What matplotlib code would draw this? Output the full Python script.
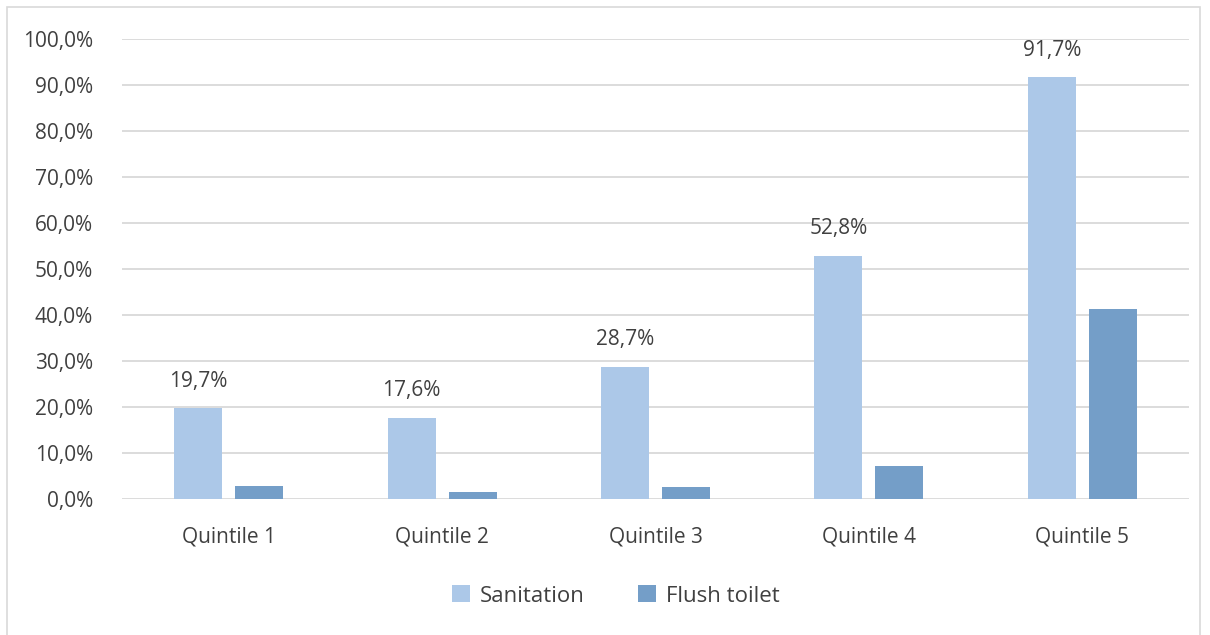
import numpy as np
import matplotlib.pyplot as plt
from matplotlib.patches import Rectangle
from matplotlib.ticker import FuncFormatter

categories = ["Quintile 1", "Quintile 2", "Quintile 3", "Quintile 4", "Quintile 5"]
sanitation = [19.7, 17.6, 28.7, 52.8, 91.7]
flush_toilet = [2.8, 1.5, 2.6, 7.2, 41.2]

LIGHT = "#ACC8E8"
DARK = "#749EC8"
TEXT = "#404040"

plt.rcParams["font.family"] = ["Open Sans", "DejaVu Sans"]

fig = plt.figure(figsize=(12.1, 6.35), dpi=100)
ax = fig.add_axes([122 / 1210, 1 - 499 / 635, (1189 - 122) / 1210, (499 - 39) / 635])

# chart frame
fig.patches.append(Rectangle((7 / 1210, -0.01), 1193 / 1210, 1 - 7 / 635 + 0.01,
                             transform=fig.transFigure, fill=False,
                             ec="#D9D9D9", lw=1.2))

x = np.arange(len(categories))
w = 0.225
off = 0.143
ax.bar(x - off, sanitation, w, color=LIGHT, label="Sanitation", zorder=3)
ax.bar(x + off, flush_toilet, w, color=DARK, label="Flush toilet", zorder=3)

for xi, v in zip(x, sanitation):
    ax.text(xi - off, v + 5.9, f"{v:.1f}%".replace(".", ","), ha="center", va="center",
            fontsize=15, color=TEXT)

ax.set_xlim(-0.5, len(categories) - 0.5)
ax.set_ylim(0, 100)
ax.set_yticks(np.arange(0, 101, 10))
ax.yaxis.set_major_formatter(FuncFormatter(lambda v, p: f"{v:.1f}%".replace(".", ",")))
ax.set_xticks(x)
ax.set_xticklabels(categories)
ax.tick_params(axis="both", length=0, labelsize=15, colors=TEXT)
ax.tick_params(axis="y", pad=21)
ax.tick_params(axis="x", pad=20)
ax.grid(axis="y", color="#D9D9D9", lw=1.3, zorder=0)
for s in ax.spines.values():
    s.set_visible(False)

leg = fig.legend(loc="center", bbox_to_anchor=(0.509, 1 - 596 / 635), ncol=2,
                 frameon=False, fontsize=16, handlelength=0.8, handleheight=0.8,
                 handletextpad=0.45, columnspacing=2.4, labelcolor=TEXT)

fig.savefig("out.png", dpi=100, facecolor="white")
